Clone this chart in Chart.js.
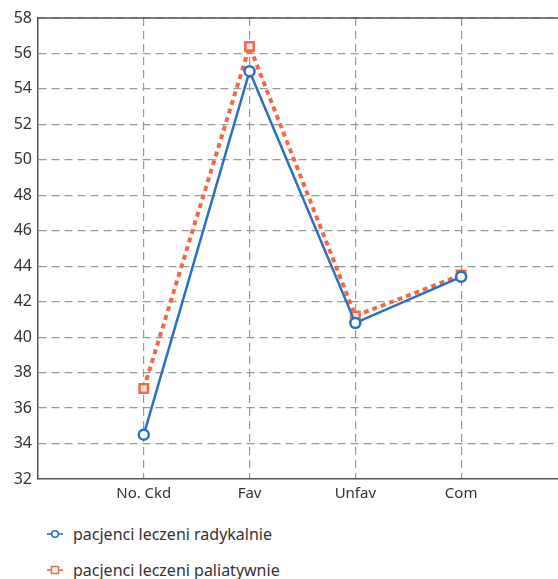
<!DOCTYPE html>
<html>
<head>
<meta charset="utf-8">
<script src="https://cdn.jsdelivr.net/npm/chart.js@4"></script>
<style>
  html, body { margin: 0; padding: 0; background: #fff; overflow: hidden; }
  /* obszar wykresu wychodzi poza prawą krawędź, jak w oryginale */
  #wrap { position: relative; width: 568px; height: 510px; }
  .legend { position: absolute; left: 0; top: 0; font-family: "Noto Sans", sans-serif; font-size: 16px; color: #333; }
  .legend .item { position: absolute; left: 46px; white-space: nowrap; height: 20px; line-height: 20px; }
  .legend canvas { position: absolute; left: 0; top: 2px; }
  .legend span { position: absolute; left: 27px; top: 0px; }
</style>
</head>
<body>
<div id="wrap"><canvas id="chart"></canvas></div>
<div class="legend" id="legend"></div>
<script>
// ---- dane ----
const categories = ['No. Ckd', 'Fav', 'Unfav', 'Com'];
const radykalnie = [34.5, 55.0, 40.8, 43.4];
const paliatywnie = [37.1, 56.4, 41.2, 43.5];
const yTicks = [32, 34, 36, 38, 40, 42, 44, 46, 48, 50, 52, 54, 56, 58];
const seriesNames = ['pacjenci leczeni radykalnie', 'pacjenci leczeni paliatywnie'];

const BLUE = '#2c70c0';
const ORANGE = '#f2694a';
const GRID = '#999';
const AXIS = '#555';

// punkty: kategoria i -> x = i + 1 (skala liniowa, żeby oś wychodziła poza kadr)
const toPoints = vals => vals.map((v, i) => ({ x: i + 1, y: v }));

// górna krawędź obszaru wykresu
const topBorder = {
  id: 'topBorder',
  afterDraw(chart) {
    const { ctx, chartArea } = chart;
    ctx.save();
    ctx.strokeStyle = AXIS;
    ctx.lineWidth = 1.5;
    ctx.beginPath();
    ctx.moveTo(chartArea.left, chartArea.top);
    ctx.lineTo(chartArea.right, chartArea.top);
    ctx.stroke();
    ctx.restore();
  }
};

const ctx = document.getElementById('chart').getContext('2d');
new Chart(ctx, {
  type: 'line',
  data: {
    datasets: [
      {
        label: seriesNames[0],
        data: toPoints(radykalnie),
        borderColor: BLUE,
        borderWidth: 2.5,
        pointStyle: 'circle',
        pointRadius: 5,
        pointBorderWidth: 2.5,
        pointBackgroundColor: '#fff',
        pointBorderColor: BLUE,
        tension: 0,
        order: 1
      },
      {
        label: seriesNames[1],
        data: toPoints(paliatywnie),
        borderColor: ORANGE,
        borderWidth: 4,
        borderDash: [5, 4],
        pointStyle: 'rect',
        pointRadius: 6,
        pointBorderWidth: 2.5,
        pointBackgroundColor: '#fde3dc',
        pointBorderColor: ORANGE,
        tension: 0,
        order: 2
      }
    ]
  },
  options: {
    responsive: true,
    maintainAspectRatio: false,
    animation: false,
    layout: { padding: { top: 18, right: 0, left: 0, bottom: 0 } },
    plugins: {
      legend: { display: false },
      tooltip: { enabled: false }
    },
    scales: {
      x: {
        type: 'linear',
        min: 0,
        max: 4.93,
        afterBuildTicks: (scale) => {
          scale.ticks = [0, 1, 2, 3, 4].map(v => ({ value: v }));
        },
        afterFit: (scale) => { scale.height = 31; },
        border: { display: true, color: AXIS, width: 1.5, dash: [8, 5] },
        grid: {
          color: (c) => (c.tick && c.tick.value >= 1 ? GRID : 'transparent'),
          lineWidth: 1.2,
          drawTicks: false
        },
        ticks: {
          padding: 6,
          color: '#333',
          font: { family: 'Noto Sans', size: 15 },
          callback: (v) => categories[v - 1] || ''
        }
      },
      y: {
        min: 32,
        max: 58,
        afterBuildTicks: (scale) => {
          scale.ticks = yTicks.map(v => ({ value: v }));
        },
        afterFit: (scale) => { scale.width = 38; },
        border: { display: true, color: AXIS, width: 1.5, dash: [8, 5] },
        grid: {
          color: (c) => (c.tick && c.tick.value > 32 ? GRID : 'transparent'),
          lineWidth: 1.2,
          drawTicks: false
        },
        ticks: {
          padding: 6,
          color: '#333',
          font: { family: 'Noto Sans', size: 16 }
        }
      }
    }
  },
  plugins: [topBorder]
});

// ---- legenda ----
const legendEl = document.getElementById('legend');
const legendDefs = [
  { name: seriesNames[0], color: BLUE, shape: 'circle', top: 524 },
  { name: seriesNames[1], color: ORANGE, shape: 'rect', top: 560 }
];
legendDefs.forEach(d => {
  const item = document.createElement('div');
  item.className = 'item';
  item.style.top = d.top + 'px';
  const c = document.createElement('canvas');
  c.width = 18; c.height = 16;
  const g = c.getContext('2d');
  g.strokeStyle = d.color;
  g.lineWidth = 1.6;
  g.beginPath(); g.moveTo(1, 8); g.lineTo(17, 8); g.stroke();
  g.fillStyle = '#fff';
  g.beginPath();
  if (d.shape === 'circle') g.arc(9, 8, 3.3, 0, Math.PI * 2);
  else g.rect(5.5, 4.5, 7, 7);
  g.fill(); g.stroke();
  const s = document.createElement('span');
  s.textContent = d.name;
  item.appendChild(c);
  item.appendChild(s);
  legendEl.appendChild(item);
});
</script>
</body>
</html>
